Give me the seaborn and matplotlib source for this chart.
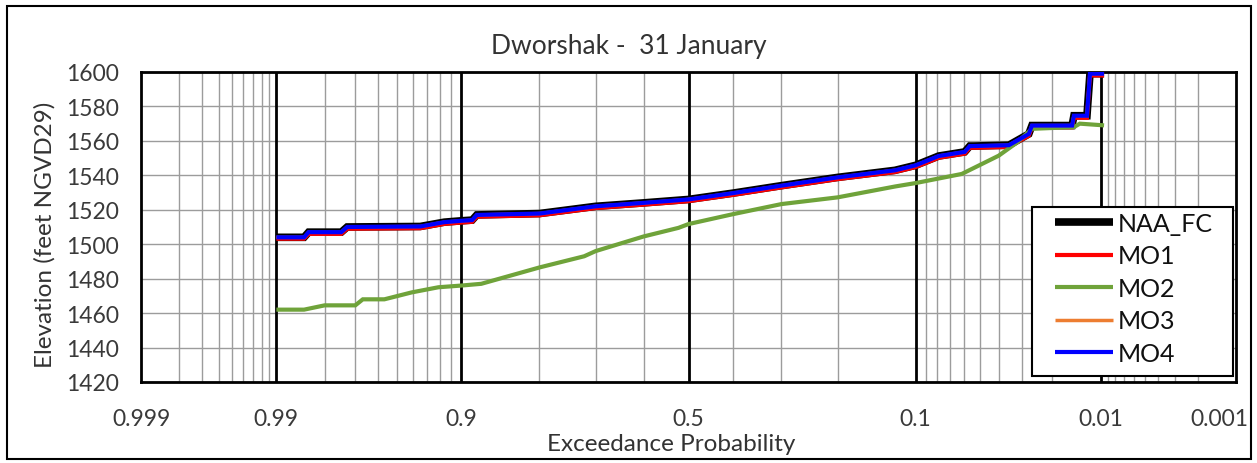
import numpy as np
import pandas as pd
import matplotlib
matplotlib.use("Agg")
import matplotlib.pyplot as plt
from matplotlib.ticker import FixedLocator, FixedFormatter
from matplotlib.patches import Rectangle
from matplotlib.transforms import ScaledTranslation
import seaborn as sns
from statistics import NormalDist

# ---- data: exceedance probability vs. reservoir elevation (ft NGVD29) ----
prob_main = [0.990, 0.985, 0.984, 0.975, 0.973, 0.935, 0.916, 0.900, 0.889, 0.884,
             0.800, 0.700, 0.600, 0.500, 0.400, 0.300, 0.200, 0.122, 0.100, 0.079,
             0.0595, 0.0562, 0.0537, 0.0353, 0.0274, 0.0263, 0.0152, 0.0148,
             0.01226, 0.01173, 0.0095]
elev_naa = [1504.0, 1504.0, 1507.0, 1507.0, 1510.0, 1510.3, 1512.8, 1513.6, 1514.0, 1517.0,
            1517.8, 1522.0, 1524.0, 1526.0, 1529.7, 1534.0, 1538.8, 1542.9, 1545.8, 1551.2,
            1553.6, 1557.0, 1557.0, 1557.5, 1564.0, 1568.9, 1568.9, 1574.6,
            1574.6, 1599.0, 1599.0]
elev_mo1 = [1503.2, 1503.2, 1506.0, 1506.0, 1509.0, 1509.3, 1511.8, 1512.6, 1513.0, 1516.0,
            1516.8, 1521.0, 1523.0, 1525.0, 1528.7, 1533.0, 1537.8, 1541.9, 1544.8, 1550.2,
            1552.6, 1556.0, 1556.0, 1556.5, 1563.0, 1567.9, 1567.9, 1573.4,
            1573.4, 1598.0, 1598.0]
elev_mo3 = [1504.0, 1504.0, 1507.0, 1507.0, 1510.0, 1510.3, 1512.8, 1513.6, 1514.0, 1517.0,
            1517.8, 1522.0, 1524.0, 1526.0, 1529.7, 1534.0, 1538.8, 1542.9, 1545.8, 1551.2,
            1553.6, 1557.0, 1557.0, 1557.5, 1564.0, 1568.9, 1568.9, 1574.6,
            1574.6, 1599.0, 1599.0]
elev_mo4 = [1504.0, 1504.0, 1507.0, 1507.0, 1510.0, 1510.3, 1512.8, 1513.6, 1514.0, 1517.0,
            1517.8, 1522.0, 1524.0, 1526.0, 1529.7, 1534.0, 1538.8, 1542.9, 1545.8, 1551.2,
            1553.6, 1557.0, 1557.0, 1557.5, 1564.0, 1568.9, 1568.9, 1574.6,
            1574.6, 1599.0, 1599.0]

prob_mo2 = [0.990, 0.985, 0.980, 0.970, 0.967, 0.957, 0.941, 0.921, 0.900, 0.879,
            0.800, 0.722, 0.700, 0.600, 0.5225, 0.500, 0.400, 0.300, 0.200, 0.122,
            0.100, 0.0615, 0.040, 0.0319, 0.0263, 0.0148, 0.0136, 0.0095]
elev_mo2 = [1462.0, 1462.0, 1464.5, 1464.5, 1468.0, 1468.0, 1472.0, 1475.0, 1476.0, 1477.0,
            1486.5, 1493.0, 1496.0, 1504.5, 1509.5, 1511.7, 1517.5, 1523.3, 1527.2, 1533.5,
            1535.5, 1540.8, 1551.4, 1559.0, 1567.0, 1568.0, 1570.0, 1569.0]

series = [
    ("NAA_FC", prob_main, elev_naa, "#000000", 5.5),
    ("MO1", prob_main, elev_mo1, "#FF0000", 3.0),
    ("MO2", prob_mo2, elev_mo2, "#6FA33A", 3.0),
    ("MO3", prob_main, elev_mo3, "#ED7D31", 2.5),
    ("MO4", prob_main, elev_mo4, "#0000FF", 3.0),
]

major_probs = [0.999, 0.99, 0.9, 0.5, 0.1, 0.01, 0.001]
major_labels = ["0.999", "0.99", "0.9", "0.5", "0.1", "0.01", "0.001"]
y_ticks = [1420, 1440, 1460, 1480, 1500, 1520, 1540, 1560, 1580, 1600]

# ---- normal-probability axis (standard normal quantile of p) ----
_nd = NormalDist()


def _to_z(p):
    p = np.clip(np.asarray(p, dtype=float), 1e-12, 1 - 1e-12)
    return np.vectorize(lambda v: _nd.inv_cdf(v) if np.isfinite(v) else np.nan,
                        otypes=[float])(p)


def _from_z(z):
    z = np.asarray(z, dtype=float)
    return np.vectorize(lambda v: _nd.cdf(v) if np.isfinite(v) else np.nan,
                        otypes=[float])(z)


sns.set_theme(style="white")
plt.rcParams["font.family"] = ["Lato", "DejaVu Sans"]

fig = plt.figure(figsize=(12.57, 4.64), dpi=100)
ax = fig.add_axes([0.1122, 0.1746, 0.8711, 0.6681])

for name, px, ey, col, lw in series:
    df = pd.DataFrame({"p": px, "elev": ey})
    sns.lineplot(data=df, x="p", y="elev", ax=ax, color=col, linewidth=lw,
                 sort=False, estimator=None, label=name, solid_capstyle="butt",
                 solid_joinstyle="miter", zorder=3)

ax.set_xscale("function", functions=(_to_z, _from_z))
ax.set_xlim(0.999, 0.001)
ax.set_ylim(1420, 1600)

minor_probs = ([round(0.991 + 0.001 * i, 3) for i in range(8)] +
               [round(0.91 + 0.01 * i, 2) for i in range(8)] +
               [0.8, 0.7, 0.6, 0.4, 0.3, 0.2] +
               [round(0.02 + 0.01 * i, 2) for i in range(8)] +
               [round(0.002 + 0.001 * i, 3) for i in range(8)])

ax.xaxis.set_major_locator(FixedLocator(major_probs))
ax.xaxis.set_major_formatter(FixedFormatter(major_labels))
ax.xaxis.set_minor_locator(FixedLocator(minor_probs))
ax.set_yticks(y_ticks)

ax.grid(False)
for p in minor_probs:
    ax.axvline(p, color="#9c9c9c", lw=1.0, zorder=1)
for y in y_ticks:
    ax.axhline(y, color="#9c9c9c", lw=1.0, zorder=1)
for p in major_probs[1:-1]:
    ax.axvline(p, color="#000000", lw=2.0, zorder=2)

for s in ax.spines.values():
    s.set_visible(True)
    s.set_color("#000000")
    s.set_linewidth(2.0)

ax.tick_params(axis="both", which="both", length=0, labelsize=16.5, colors="#3a3a3a")
ax.tick_params(axis="x", pad=19)
ax.tick_params(axis="y", pad=16)

ax.set_xlabel("Exceedance Probability", fontsize=17.5, color="#333333")
ax.set_ylabel("Elevation (feet NGVD29)", fontsize=17.5, color="#333333")
ax.xaxis.set_label_coords(0.484, -0.20)
ax.yaxis.set_label_coords(-0.0877, 0.477)
ax.xaxis.label.set_va("center")
ax.yaxis.label.set_va("center")

fig.text(0.5, 0.90, "Dworshak -  31 January", ha="center", va="center",
         fontsize=19, color="#333333")

# legend: white boxed panel in the lower right of the plot area
ax.add_patch(Rectangle((0.8137, 0.0194), 0.1836, 0.545, transform=ax.transAxes,
                       facecolor="white", edgecolor="#000000", linewidth=1.5,
                       zorder=4, clip_on=False))
leg = ax.legend(loc="upper left", bbox_to_anchor=(0.8347, 0.549), fontsize=18,
                frameon=False, handlelength=2.3, handletextpad=0.2,
                labelspacing=0.38, borderpad=0.0, borderaxespad=0.0)
leg.set_zorder(5)
for t in leg.get_texts():
    t.set_color("#111111")

# keep the rightmost probability label inside the chart border
last = ax.get_xticklabels()[-1]
last.set_ha("right")
last.set_transform(last.get_transform() + ScaledTranslation(0.12, 0, fig.dpi_scale_trans))

# outer chart border
fig.patches.append(Rectangle((7 / 1257, 4 / 464), 1244 / 1257, 453 / 464,
                             transform=fig.transFigure, fill=False,
                             edgecolor="#000000", linewidth=1.5))

fig.savefig("out.png", dpi=100, facecolor="white")
